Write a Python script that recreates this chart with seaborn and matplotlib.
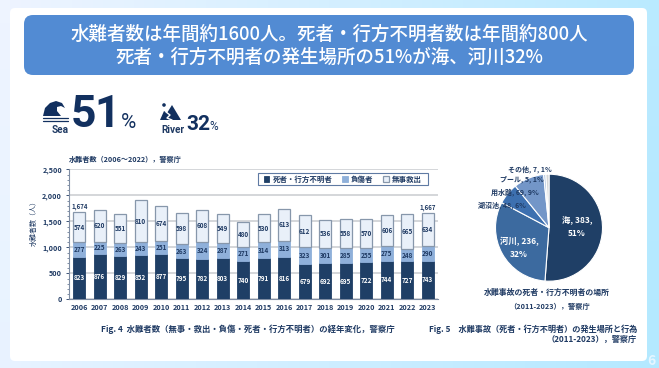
import numpy as np
import pandas as pd
import matplotlib
matplotlib.use("Agg")
import matplotlib.pyplot as plt
from matplotlib.patches import FancyBboxPatch, Polygon, Circle, Rectangle
from matplotlib.ticker import MultipleLocator, FuncFormatter
import seaborn as sns

years = list(range(2006, 2024))
dead = [823, 876, 829, 852, 877, 795, 782, 803, 740, 791, 816, 679, 692, 695, 722, 744, 727, 743]
injured = [277, 225, 263, 243, 251, 263, 324, 287, 271, 314, 313, 323, 301, 285, 255, 275, 248, 290]
rescued = [574, 620, 551, 810, 674, 598, 608, 549, 480, 530, 613, 612, 536, 558, 570, 606, 665, 634]
series_names = ["死者・行方不明者", "負傷者", "無事救出"]
places = ["海", "河川", "湖沼池", "用水路", "プール", "その他"]
place_vals = [383, 236, 48, 69, 5, 7]
place_pct = [51, 32, 6, 9, 1, 1]

NAVY = "#1f3f66"
MID = "#8fb0da"
LIGHT = "#e9f0f9"
TXT = "#1f3a63"
W, H = 659, 368

sns.set_theme(style="white")
plt.rcParams["font.family"] = ["Noto Sans CJK JP", "DejaVu Sans"]
plt.rcParams["font.weight"] = "bold"

fig = plt.figure(figsize=(W / 100, H / 100), dpi=100)

bg = fig.add_axes([0, 0, 1, 1], zorder=0)
bg.set_xlim(0, W)
bg.set_ylim(H, 0)
bg.axis("off")
gx, gy = np.meshgrid(np.linspace(0, 1, 64), np.linspace(0, 1, 32))
grad = np.clip(gx * 0.85 + gy * 0.1, 0, 1)
cmap = matplotlib.colors.LinearSegmentedColormap.from_list("bgc", ["#eef4ff", "#b4e9ff"])
bg.imshow(grad, extent=[0, W, H, 0], cmap=cmap, aspect="auto", zorder=0)
bg.add_patch(FancyBboxPatch((14, 12), 629, 345, boxstyle="round,pad=4,rounding_size=5",
                            fc="white", ec="none", zorder=1))
bg.add_patch(FancyBboxPatch((31, 22), 596, 46, boxstyle="round,pad=7,rounding_size=9",
                            fc="#528bd3", ec="none", zorder=2))
bg.text(329, 34, "水難者数は年間約1600人。死者・行方不明者数は年間約800人", color="white",
        fontsize=13.3, weight="medium", ha="center", va="center", zorder=3)
bg.text(329, 57, "死者・行方不明者の発生場所の51%が海、河川32%", color="white",
        fontsize=13.3, weight="medium", ha="center", va="center", zorder=3)

ICON = "#12305f"
bg.add_patch(Polygon([(43, 116), (45, 108), (50, 103), (56, 101), (62, 103), (65, 108), (61, 106),
                      (57, 107), (57, 111), (61, 116)], fc=ICON, ec="none", zorder=3))
for yy in (118, 120.5):
    bg.plot([43, 68], [yy, yy], color=ICON, lw=0.9, zorder=3)
bg.text(60, 130, "Sea", color=TXT, fontsize=7.2, ha="center", va="center", zorder=3, family="Roboto")
bg.text(83.5, 115, "5", color=ICON, fontsize=32, ha="center", va="center", zorder=3, family="Roboto", weight="bold")
bg.text(107.5, 115, "1", color=ICON, fontsize=32, ha="center", va="center", zorder=3, family="Roboto", weight="bold")
bg.text(128, 123, "%", color=ICON, fontsize=15, ha="center", va="center", zorder=3, family="Roboto", weight="regular")

bg.add_patch(Polygon([(160, 120), (164, 111), (167, 113), (172, 105), (181, 120)], fc=ICON, ec="none", zorder=3))
bg.plot([166, 170, 167, 172], [112, 115, 118, 120], color="white", lw=1.0, zorder=4)
bg.add_patch(Circle((164, 105), 1.8, fc=ICON, ec="none", zorder=3))
bg.text(173, 130, "River", color=TXT, fontsize=7.2, ha="center", va="center", zorder=3, family="Roboto")
bg.text(198, 125, "32", color=ICON, fontsize=15, ha="center", va="center", zorder=3, family="Roboto", weight="bold")
bg.text(214, 127, "%", color=ICON, fontsize=8.5, ha="center", va="center", zorder=3, family="Roboto", weight="regular")

ax = fig.add_axes([69 / W, 1 - 299.3 / H, 369 / W, 130 / H], zorder=2)
ax.patch.set_alpha(0)
df = pd.DataFrame({"year": [str(y) for y in years], "dead": dead, "injured": injured, "rescued": rescued})
bot1 = np.array(dead)
bot2 = bot1 + np.array(injured)
EDGE = "#8797ab"
sns.barplot(data=df, x="year", y="dead", color=NAVY, saturation=1, width=0.6, ax=ax,
            edgecolor=NAVY, linewidth=0.6, label=series_names[0], zorder=3)
sns.barplot(data=df, x="year", y="injured", bottom=bot1, color=MID, saturation=1, width=0.6, ax=ax,
            edgecolor=MID, linewidth=0.6, label=series_names[1], zorder=3)
sns.barplot(data=df, x="year", y="rescued", bottom=bot2, color=LIGHT, saturation=1, width=0.6, ax=ax,
            edgecolor=EDGE, linewidth=0.9, label=series_names[2], zorder=3)
for cont, col in zip(ax.containers, ["white", TXT, TXT]):
    ax.bar_label(cont, label_type="center", color=col, fontsize=4.6, weight="bold", zorder=5)
ax.set_xlim(-0.5, 17.5)
ax.set_ylim(0, 2500)
ax.set_xlabel("")
ax.set_ylabel("水難者数（人）", fontsize=5.0, color=TXT, labelpad=3, y=0.595)
ax.yaxis.set_major_locator(MultipleLocator(500))
ax.yaxis.set_minor_locator(MultipleLocator(100))
ax.yaxis.set_major_formatter(FuncFormatter(lambda v, p: f"{int(v):,}"))
ax.grid(axis="y", color="#c9cccf", lw=1.1, zorder=0)
ax.set_axisbelow(True)
ax.tick_params(axis="y", which="major", left=True, length=2, width=0.6, color=TXT, labelsize=5.2,
               labelcolor=TXT, pad=3)
ax.tick_params(axis="y", which="minor", left=True, length=1.2, width=0.4, color=TXT)
ax.tick_params(axis="x", bottom=False, labelsize=5.2, labelcolor=TXT, pad=-2.5)
for s in ("top", "right"):
    ax.spines[s].set_visible(False)
for s in ("left", "bottom"):
    ax.spines[s].set_color("#7f8da3")
    ax.spines[s].set_linewidth(0.8)
ax.add_patch(Rectangle(((258 - 69) / 369, (299.3 - 185) / 130), 170 / 369, 12 / 130, transform=ax.transAxes,
                       fc="white", ec="#5f7aa3", lw=0.8, zorder=5))
leg = ax.legend(loc="center right", bbox_to_anchor=((421.5 - 69) / 369, (299.3 - 179) / 130), ncol=3, fontsize=5.4,
                frameon=False, handlelength=0.7, handleheight=0.7, handletextpad=0.4, columnspacing=1.35,
                borderpad=0, borderaxespad=0, labelcolor=TXT)
leg.set_zorder(6)
total = [sum(v) for v in zip(dead, injured, rescued)]
for i in (0, 17):
    ax.text(i, total[i] + 40, f"{total[i]:,}", ha="center", va="bottom", fontsize=4.4, color=TXT, zorder=5)
bg.text(69, 159, "水難者数（2006～2022），警察庁", color=TXT, fontsize=5.15, va="center", zorder=3)

r = 53.5
pax = fig.add_axes([(549 - r) / W, 1 - (227.7 + r) / H, 2 * r / W, 2 * r / H], zorder=2)
pie_cols = [NAVY, "#3c6a9f", "#3d70b0", "#7396c8", "#a9bfdc", "#d4d6d8"]
pax.pie(place_vals, colors=pie_cols, startangle=90, counterclock=False, radius=1,
        wedgeprops=dict(edgecolor="white", linewidth=0.8))
pax.set_xlim(-1, 1)
pax.set_ylim(-1, 1)

ov = fig.add_axes([0, 0, 1, 1], zorder=4)
ov.set_xlim(0, W)
ov.set_ylim(H, 0)
ov.axis("off")
ov.patch.set_alpha(0)
ov.text(577, 227, f"{places[0]}, {place_vals[0]},\n{place_pct[0]}%", color="white", fontsize=6, ha="center",
        va="center", linespacing=1.6)
ov.text(519, 248, f"{places[1]}, {place_vals[1]},\n{place_pct[1]}%", color="white", fontsize=6, ha="center",
        va="center", linespacing=1.6)
small = {2: (502, 205), 3: (515, 192), 4: (522, 179), 5: (530, 169)}
for i, (px, py) in small.items():
    ov.text(px, py, f"{places[i]}, {place_vals[i]}, {place_pct[i]}%", color=TXT, fontsize=5.0, ha="center", va="center")
ov.text(547, 292, "水難事故の死者・行方不明者の場所", color=TXT, fontsize=5.7, ha="center", va="center")
ov.text(550, 306, "（2011-2023），警察庁", color=TXT, fontsize=5.2, ha="center", va="center")
ov.text(101, 329, "Fig. 4  水難者数（無事・救出・負傷・死者・行方不明者）の経年変化，警察庁", color=TXT,
        fontsize=6.0, ha="left", va="center")
ov.text(637, 329, "Fig. 5　水難事故（死者・行方不明者）の発生場所と行為", color=TXT, fontsize=5.9, ha="right", va="center")
ov.text(637, 339, "（2011-2023），警察庁", color=TXT, fontsize=5.9, ha="right", va="center")
ov.text(651, 361, "6", color="#e6f6ff", fontsize=10, ha="center", va="center")

fig.savefig("out.png", dpi=100)
